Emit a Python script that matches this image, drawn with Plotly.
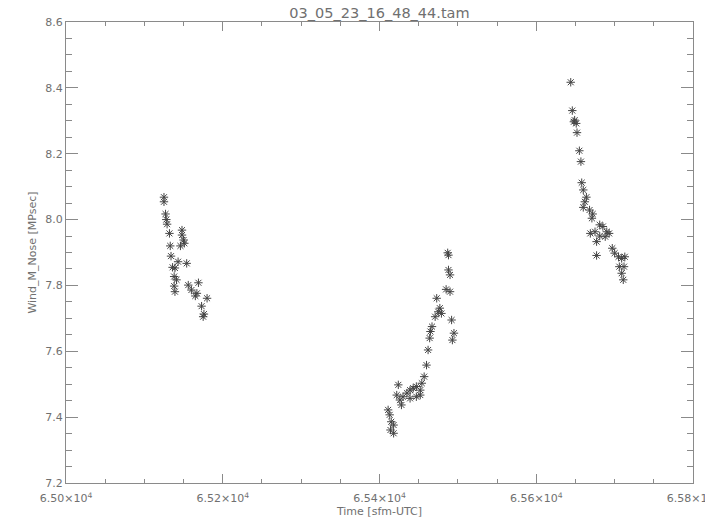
import plotly.graph_objects as go

# Cluster 1
x1 = [65125, 65125, 65127, 65128, 65129, 65132, 65148, 65148, 65150, 65151, 65146, 65133,
      65134, 65143, 65154, 65136, 65139, 65138, 65141, 65138, 65139, 65156, 65160, 65167,
      65169, 65165, 65180, 65173, 65176, 65175]
y1 = [8.068, 8.054, 8.017, 8.000, 7.986, 7.958, 7.968, 7.953, 7.938, 7.928, 7.920, 7.920,
      7.889, 7.872, 7.867, 7.855, 7.853, 7.827, 7.817, 7.798, 7.781, 7.801, 7.786, 7.776,
      7.808, 7.768, 7.761, 7.737, 7.713, 7.705]
# Cluster 2
x2 = [65487, 65488, 65488, 65490, 65485, 65490, 65473, 65477, 65475, 65479, 65471, 65492,
      65467, 65465, 65464, 65495, 65493, 65462, 65460, 65457, 65454, 65452, 65447, 65443,
      65439, 65435, 65424, 65430, 65426, 65422, 65428, 65452, 65447, 65439, 65411, 65413,
      65415, 65418, 65414, 65418]
y2 = [7.899, 7.892, 7.847, 7.832, 7.788, 7.781, 7.761, 7.731, 7.720, 7.715, 7.705, 7.695,
      7.675, 7.660, 7.640, 7.655, 7.634, 7.604, 7.558, 7.523, 7.503, 7.482, 7.493, 7.488,
      7.482, 7.473, 7.498, 7.462, 7.452, 7.467, 7.437, 7.467, 7.462, 7.457, 7.422, 7.407,
      7.386, 7.376, 7.361, 7.351]
# Cluster 3
x3 = [65644, 65646, 65649, 65651, 65648, 65652, 65655, 65657, 65658, 65660, 65664, 65662,
      65660, 65668, 65672, 65671, 65681, 65685, 65669, 65675, 65690, 65681, 65688, 65693,
      65677, 65677, 65697, 65700, 65705, 65709, 65713, 65706, 65709, 65712, 65711]
y3 = [8.417, 8.331, 8.302, 8.292, 8.297, 8.264, 8.209, 8.176, 8.112, 8.090, 8.068, 8.054,
      8.037, 8.029, 8.017, 8.004, 7.984, 7.979, 7.958, 7.963, 7.963, 7.950, 7.948, 7.958,
      7.933, 7.891, 7.913, 7.898, 7.887, 7.882, 7.887, 7.857, 7.837, 7.857, 7.817]

x_ticks = [65000, 65200, 65400, 65600, 65800]
x_ticktext = ["6.50×10<sup>4</sup>", "6.52×10<sup>4</sup>", "6.54×10<sup>4</sup>",
              "6.56×10<sup>4</sup>", "6.58×10<sup>4</sup>"]
y_ticks = [7.2, 7.4, 7.6, 7.8, 8.0, 8.2, 8.4, 8.6]
y_ticktext = ["7.2", "7.4", "7.6", "7.8", "8.0", "8.2", "8.4", "8.6"]

xs = x1 + x2 + x3
ys = y1 + y2 + y3

axis_col = "#8a8a8a"
text_col = "#707070"
FAM = "DejaVu Sans, Verdana, sans-serif"
fnt = dict(family=FAM, size=11, color=text_col)

fig = go.Figure()
fig.add_trace(go.Scatter(
    x=xs, y=ys, mode="markers",
    marker=dict(symbol="asterisk-open", size=7, color="#444444",
                line=dict(width=1, color="#444444")),
    showlegend=False,
))

# page body has an 8px default margin; figure is sized to compensate
fig.update_layout(
    width=705, height=517, autosize=False,
    margin=dict(l=58, r=20, t=14, b=42),
    paper_bgcolor="white", plot_bgcolor="white",
    title=dict(text="03_05_23_16_48_44.tam", x=0.5, xref="paper", xanchor="center",
               y=1.0, yref="container", yanchor="top",
               font=dict(family=FAM, size=14.5, color=text_col)),
    font=fnt,
)
fig.update_xaxes(
    range=[65000, 65800], tickmode="array", tickvals=x_ticks, ticktext=x_ticktext,
    showgrid=False, zeroline=False, showline=True, linecolor=axis_col, linewidth=1,
    mirror="allticks", ticks="inside", ticklen=9, tickcolor=axis_col,
    minor=dict(ticks="inside", ticklen=4, dtick=50, tick0=65000, tickcolor=axis_col, showgrid=False),
    title=dict(text="Time [sfm-UTC]", font=fnt, standoff=3),
    tickfont=fnt, automargin=False, ticklabeloverflow="allow", ticklabelstandoff=5,
)
fig.update_yaxes(
    range=[7.2, 8.6], tickmode="array", tickvals=y_ticks, ticktext=y_ticktext,
    showgrid=False, zeroline=False, showline=True, linecolor=axis_col, linewidth=1,
    mirror="allticks", ticks="inside", ticklen=12, tickcolor=axis_col,
    minor=dict(ticks="inside", ticklen=6, dtick=0.05, tick0=7.2, tickcolor=axis_col, showgrid=False),
    title=dict(text="Wind_M_Nose [MPsec]", font=fnt, standoff=6),
    tickfont=fnt, automargin=False, ticklabeloverflow="allow",
)

fig.write_html("out.html")
